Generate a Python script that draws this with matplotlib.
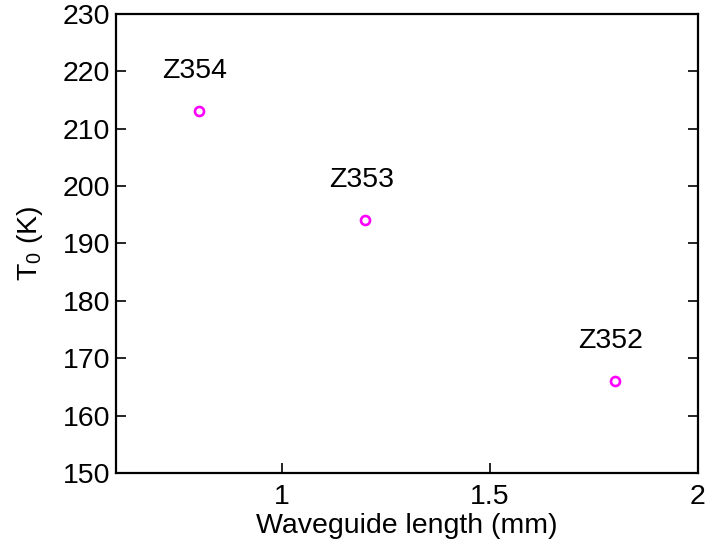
import matplotlib.pyplot as plt
from matplotlib import rcParams

rcParams["font.family"] = ["Liberation Sans", "DejaVu Sans"]
rcParams["mathtext.fontset"] = "custom"
rcParams["mathtext.rm"] = "Liberation Sans"
rcParams["mathtext.it"] = "Liberation Sans"

samples = ["Z354", "Z353", "Z352"]
length_mm = [0.8, 1.2, 1.8]
t0_k = [213, 194, 166]

x_ticks = [1, 1.5, 2]
x_tick_labels = ["1", "1.5", "2"]
y_ticks = list(range(150, 231, 10))

fig = plt.figure(figsize=(7.07, 5.52), dpi=100)
ax = fig.add_axes([0.164, 0.143, 0.823, 0.832])

ax.plot(length_mm, t0_k, linestyle="none", marker="o", markersize=6.5,
        markerfacecolor="none", markeredgecolor="#FF00FF", markeredgewidth=1.9)

# sample names sit just above each point
for name, x, y in zip(samples, length_mm, t0_k):
    ax.text(x - 0.01, y + 7, name, ha="center", va="center", fontsize=20.5)

ax.set_xlim(0.6, 2)
ax.set_ylim(150, 230)
ax.set_xticks(x_ticks)
ax.set_xticklabels(x_tick_labels)
ax.set_yticks(y_ticks)

ax.tick_params(direction="in", length=7, width=1.2, labelsize=20.5,
               top=False, right=True, labelright=False)
ax.tick_params(axis="x", pad=8)
ax.tick_params(axis="y", pad=4)
for side in ["top", "bottom", "left", "right"]:
    ax.spines[side].set_linewidth(1.6)

ax.set_xlabel("Waveguide length (mm)", fontsize=20.5, labelpad=2)
ax.set_ylabel("T$_0$ (K)", fontsize=20.5, labelpad=13)

fig.savefig("out.png", dpi=100)
